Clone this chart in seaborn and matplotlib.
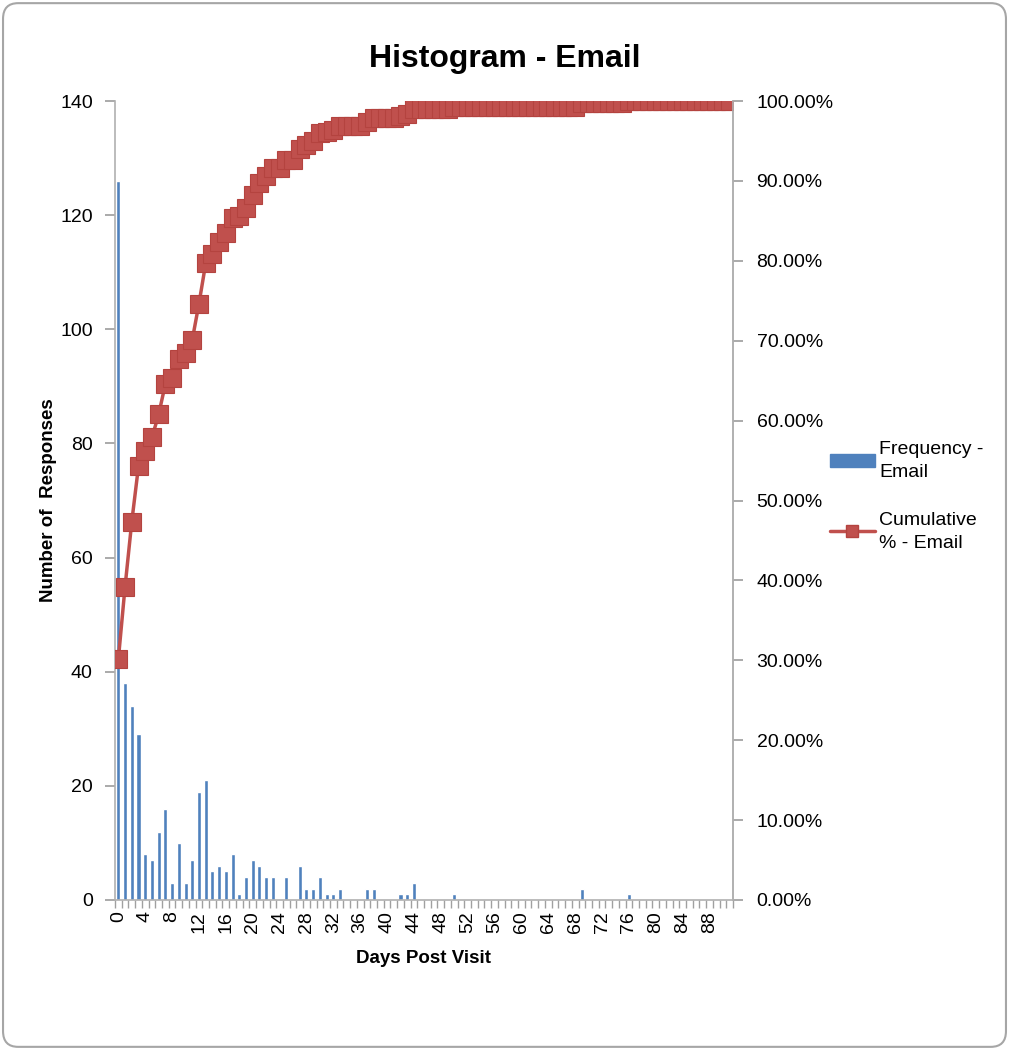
import numpy as np
import pandas as pd
import matplotlib
matplotlib.use("Agg")
import matplotlib.pyplot as plt
import seaborn as sns
from matplotlib.patches import Patch, FancyBboxPatch
from matplotlib.lines import Line2D
from matplotlib.ticker import FixedLocator, FuncFormatter

# 日数（ビン）
days = list(range(92))

# 各日の回答数
freq = [
    126, 38, 34, 29, 8, 7, 12, 16, 3, 10,
    3, 7, 19, 21, 5, 6, 5, 8, 1, 4,
    7, 6, 4, 4, 0, 4, 0, 6, 2, 2,
    4, 1, 1, 2, 0, 0, 0, 2, 2, 0,
    0, 0, 1, 1, 3, 0, 0, 0, 0, 0,
    1, 0, 0, 0, 0, 0, 0, 0, 0, 0,
    0, 0, 0, 0, 0, 0, 0, 0, 0, 2,
    0, 0, 0, 0, 0, 0, 1, 0, 0, 0,
    0, 0, 0, 0, 0, 0, 0, 0, 0, 0,
    0, 0,
]

left_ticks = [0, 20, 40, 60, 80, 100, 120, 140]
right_ticks = [0.0, 0.1, 0.2, 0.3, 0.4, 0.5, 0.6, 0.7, 0.8, 0.9, 1.0]
label_step = 4

BLUE = "#4F81BD"
RED = "#C0504D"
TXT = "#000000"

df = pd.DataFrame({"day": days, "freq": freq})
# 累積割合（Excel のヒストグラムと同じ定義）
df["cum"] = df["freq"].cumsum() / df["freq"].sum()

sns.set_theme(style="white")
plt.rcParams["font.family"] = ["Liberation Sans", "DejaVu Sans"]
plt.rcParams["text.color"] = TXT
plt.rcParams["axes.labelcolor"] = TXT
plt.rcParams["xtick.color"] = TXT
plt.rcParams["ytick.color"] = TXT

fig = plt.figure(figsize=(10.09, 10.50), dpi=100)
ax = fig.add_axes([115 / 1009, 1 - 900 / 1050, 618 / 1009, 799 / 1050])

# 棒グラフ（度数）
sns.barplot(data=df, x="day", y="freq", order=days, color=BLUE,
            saturation=1, width=0.6, ax=ax)

ax.set_xlim(-0.5, len(days) - 0.5)
ax.set_ylim(0, 140)
ax.set_yticks(left_ticks)
ax.set_yticklabels([str(t) for t in left_ticks], fontsize=14)

# x 軸：ラベルは 4 日ごと、目盛り線はビンの境界
xt = [d for d in days if d % label_step == 0 and d <= 88]
ax.set_xticks(xt)
ax.set_xticklabels([str(d) for d in xt], rotation=90, fontsize=14)
ax.xaxis.set_minor_locator(FixedLocator([d - 0.5 for d in days] + [len(days) - 0.5]))
ax.tick_params(axis="x", which="major", length=0, pad=8)
ax.tick_params(axis="x", which="minor", length=6, color="#A0A0A0", width=1,
               bottom=True)
ax.tick_params(axis="y", length=7, color="#A0A0A0", left=True, pad=9)

ax.set_xlabel("Days Post Visit", fontsize=13.5, fontweight="bold", labelpad=12)
ax.set_ylabel("Number of  Responses", fontsize=13.5, fontweight="bold", labelpad=2)

ax.spines["top"].set_visible(False)
for side in ["left", "bottom", "right"]:
    ax.spines[side].set_color("#B0B0B0")
    ax.spines[side].set_linewidth(1.2)

# 累積 % の折れ線（右軸）
ax2 = ax.twinx()
sns.lineplot(data=df, x="day", y="cum", color=RED, linewidth=2.5,
             marker="s", markersize=12.5, markeredgecolor="#B4433F",
             markeredgewidth=0.8, ax=ax2)
ax2.set_ylim(0, 1)
ax2.set_yticks(right_ticks)
ax2.yaxis.set_major_formatter(FuncFormatter(lambda v, p: f"{v * 100:.2f}%"))
ax2.tick_params(axis="y", labelsize=14, length=7, color="#A0A0A0", right=True,
                pad=10, labelcolor=TXT)
ax2.set_ylabel("")
ax2.set_xlabel("")
for side in ["top", "left", "bottom"]:
    ax2.spines[side].set_visible(False)
ax2.spines["right"].set_color("#B0B0B0")
ax2.spines["right"].set_linewidth(1.2)
ax2.set_xlim(-0.5, len(days) - 0.5)

# タイトル
fig.text(0.5, 1 - 59 / 1050, "Histogram - Email", ha="center", va="center",
         fontsize=23, fontweight="bold")

# 凡例
handles = [
    Patch(facecolor=BLUE, edgecolor=BLUE),
    Line2D([0], [0], color=RED, linewidth=2.5, marker="s", markersize=9,
           markeredgecolor="#B4433F"),
]
labels = ["Frequency -\nEmail", "Cumulative\n% - Email"]
leg = fig.legend(handles, labels, loc="upper left",
                 bbox_to_anchor=(822 / 1009, 1 - 433 / 1050),
                 frameon=False, fontsize=14, handlelength=2.3, handletextpad=0.25,
                 labelspacing=1.6, borderaxespad=0)
for t in leg.get_texts():
    t.set_linespacing(1.45)

# 外枠（角丸）
border = FancyBboxPatch((0.003, 0.003), 0.994, 0.994,
                        boxstyle="round,pad=0,rounding_size=0.015",
                        transform=fig.transFigure, facecolor="none",
                        edgecolor="#A6A6A6", linewidth=1.5)
fig.patches.append(border)

fig.savefig("out.png", dpi=100)
